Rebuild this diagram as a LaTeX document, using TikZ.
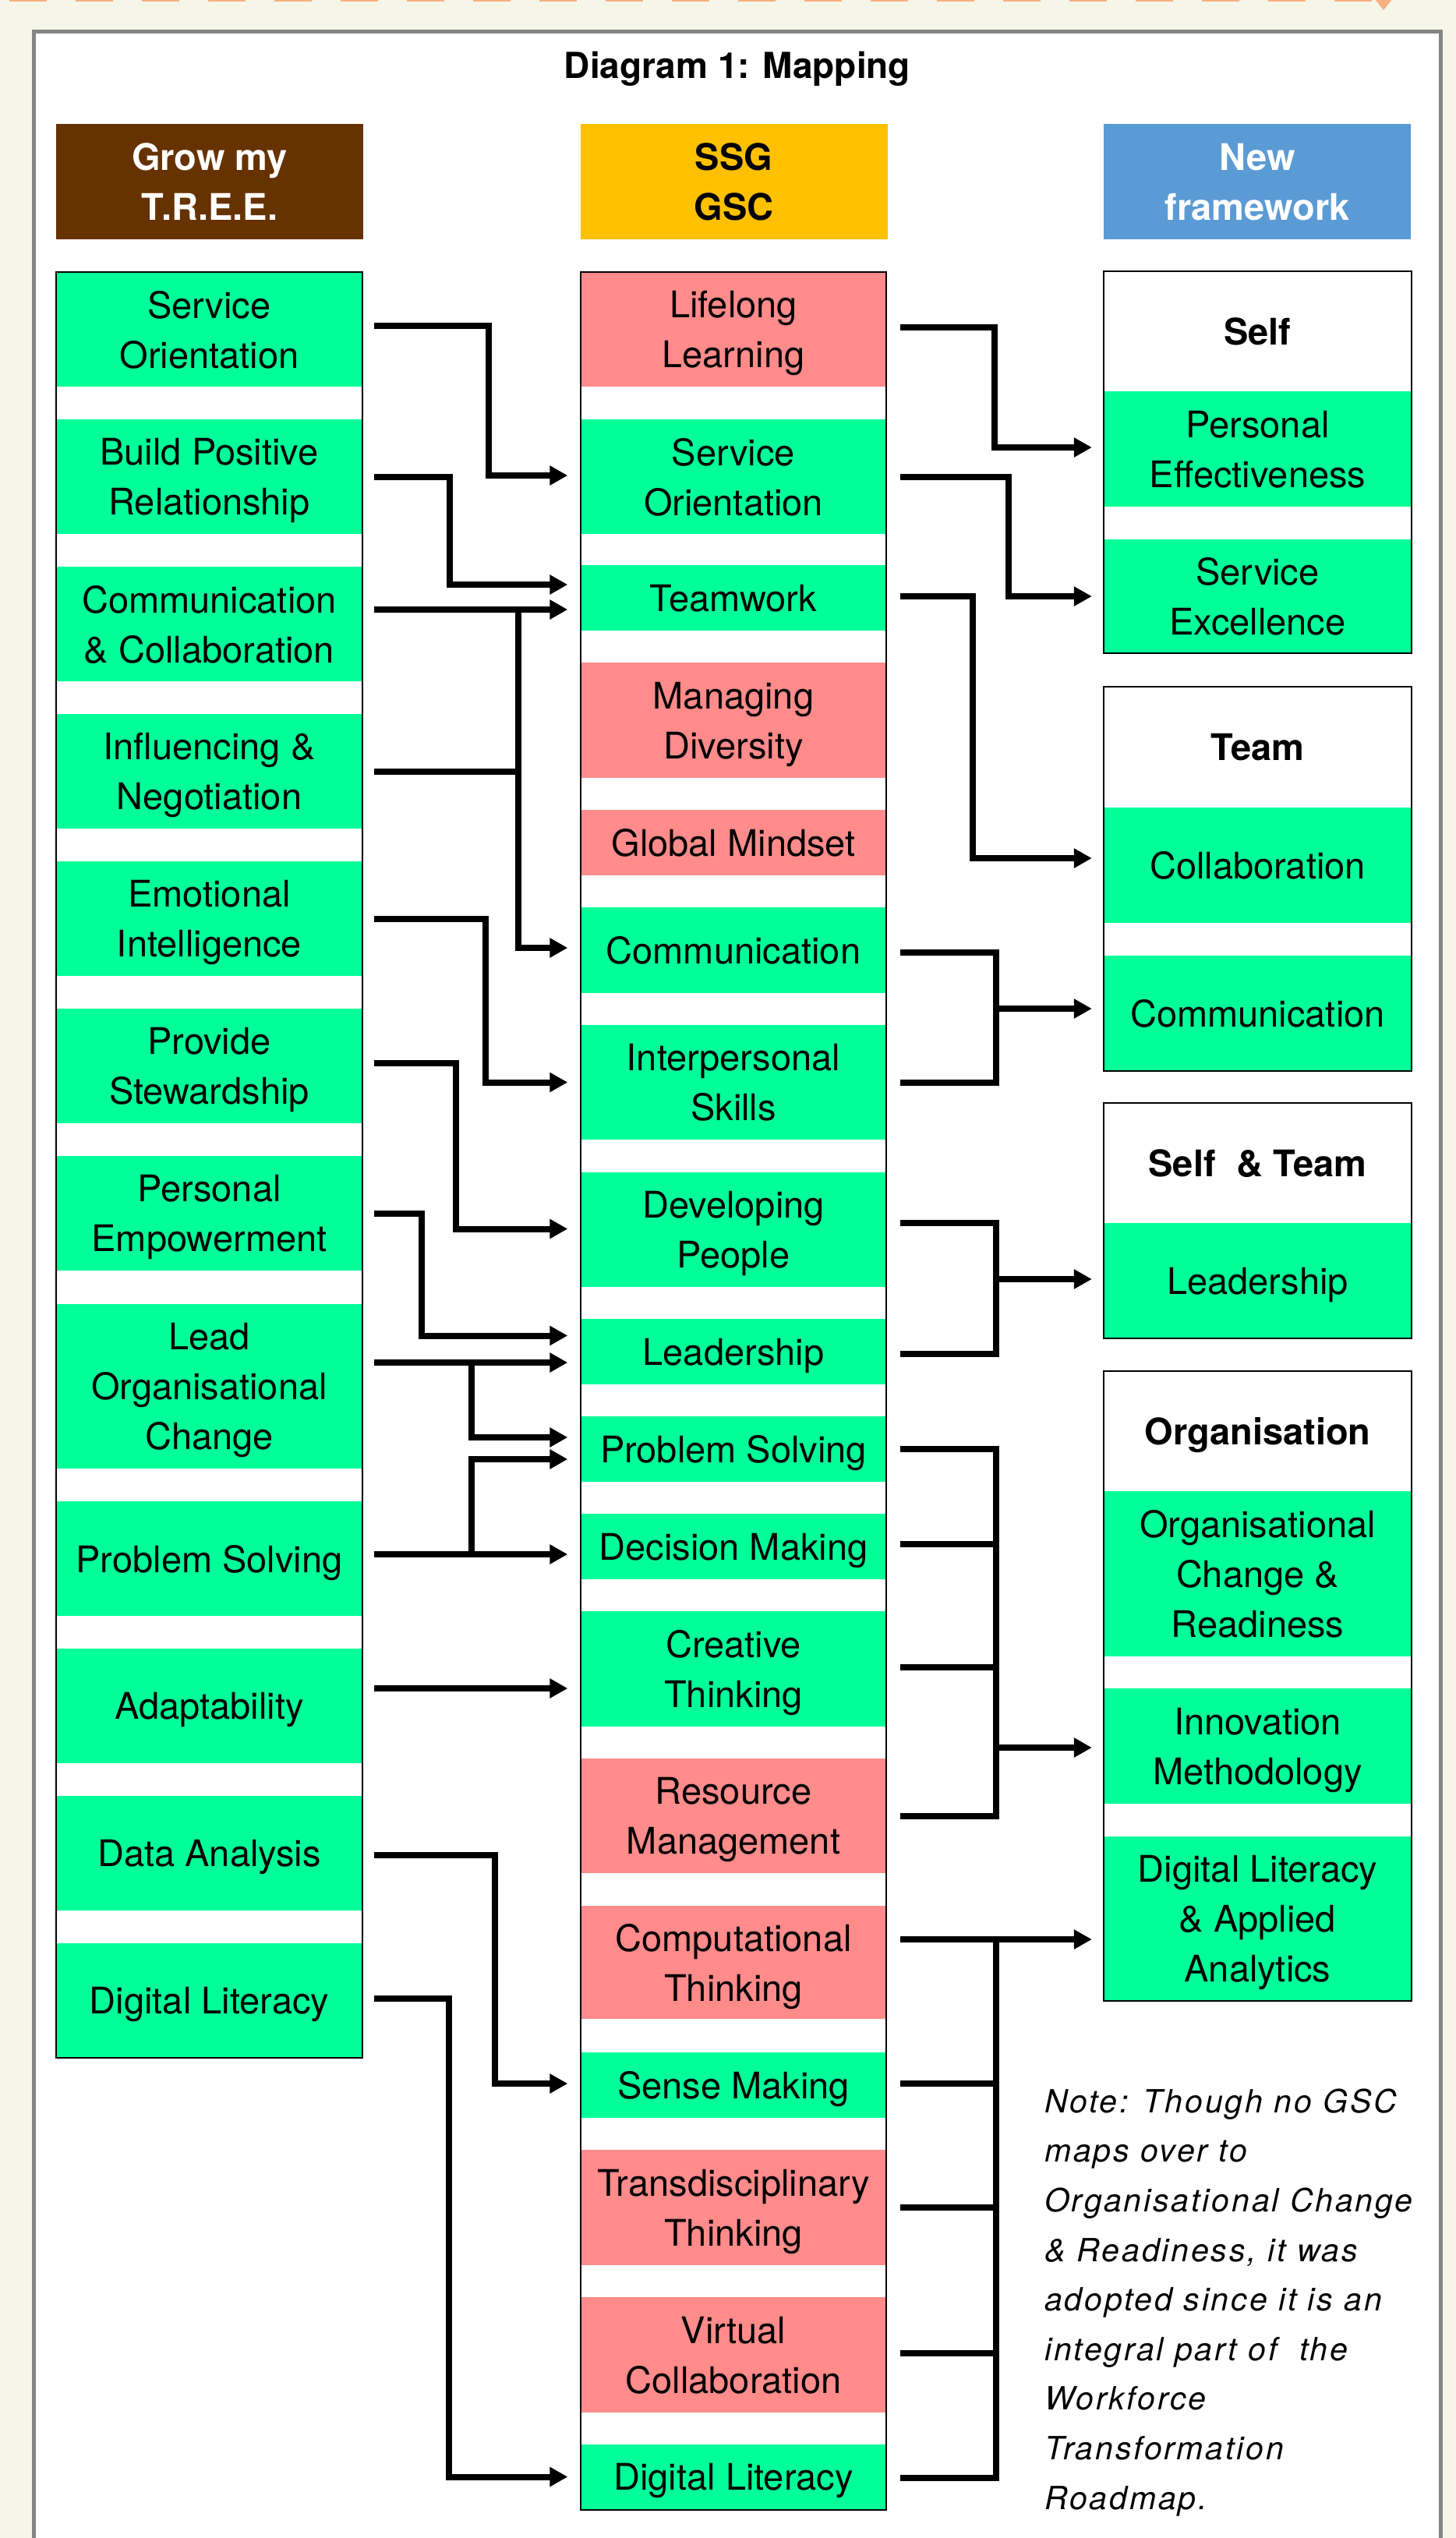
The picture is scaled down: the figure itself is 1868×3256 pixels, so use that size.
\documentclass[tikz,border=0pt]{standalone}
\usepackage{fontspec}
\setmainfont{TeX Gyre Heros}
\usetikzlibrary{arrows.meta}
\definecolor{mgreen}{HTML}{00FF99}
\definecolor{mpink}{HTML}{FF8B8B}
\definecolor{mbrown}{HTML}{663300}
\definecolor{myellow}{HTML}{FFC000}
\definecolor{mblue}{HTML}{5B9BD5}
\definecolor{cream}{HTML}{F5F5E8}
\definecolor{orng}{HTML}{F7B07F}
\definecolor{fgray}{HTML}{858585}
\newcommand\boxfont{\fontsize{47pt}{64pt}\selectfont}
\newcommand\hdrfont{\fontsize{47pt}{64pt}\selectfont\bfseries}
\newcommand\notefont{\fontsize{41pt}{63.6pt}\selectfont\itshape\addfontfeatures{LetterSpace=7}}
\begin{document}
\begin{tikzpicture}[x=1pt,y=-1pt,
  cell/.style={inner sep=0pt, minimum width=393pt, align=center, font=\boxfont, text depth=0pt},
  gcell/.style={cell, fill=mgreen},
  pcell/.style={cell, fill=mpink},
  rcell/.style={inner sep=0pt, minimum width=395pt, align=center, font=\boxfont, fill=mgreen, text depth=0pt},
  hdr/.style={inner sep=0pt, minimum width=394pt, minimum height=148pt, align=center, font=\hdrfont, text depth=0pt},
  colframe/.style={draw=black, line width=2.5pt, inner sep=0pt},
  grptitle/.style={inner sep=0pt, align=center, font=\hdrfont, text depth=0pt},
  conn/.style={line width=8pt, -{Triangle[length=23pt,width=24pt]}},
  bus/.style={line width=8pt}]
\useasboundingbox (0,0) rectangle (1868,3256);
\fill[cream] (0,0) rectangle (1868,3256);
% top dashed decoration
\draw[orng, line width=12pt, dash pattern=on 48pt off 37pt] (12,-4) -- (1760,-4);
\fill[orng] (1760,-6) -- (1790,-6) -- (1775,13) -- cycle;
% frame
\draw[fgray, line width=5pt, fill=white] (43.5,40.5) rectangle (1848.5,3320);
% title
\node[font=\fontsize{46pt}{52pt}\selectfont\bfseries, anchor=base, inner sep=0pt] (title) at (946,100) {Diagram 1: Mapping};
% headers
\node[hdr, fill=mbrown, text=white] (h1) at (269,233) {Grow my\\T.R.E.E.};
\node[hdr, fill=myellow, text=black] (h2) at (941.5,233) {SSG\\GSC};
\node[hdr, fill=mblue, text=white] (h3) at (1613,233) {New\\framework};
% left column
\node[gcell, minimum height=147pt] (l1) at (268.5,422.5) {Service\\Orientation};
\node[gcell, minimum height=147pt] (l2) at (268.5,611.5) {Build Positive\\Relationship};
\node[gcell, minimum height=147pt] (l3) at (268.5,800.5) {Communication\\\& Collaboration};
\node[gcell, minimum height=147pt] (l4) at (268.5,989.5) {Influencing \&\\Negotiation};
\node[gcell, minimum height=147pt] (l5) at (268.5,1178.5) {Emotional\\Intelligence};
\node[gcell, minimum height=147pt] (l6) at (268.5,1367.5) {Provide\\Stewardship};
\node[gcell, minimum height=147pt] (l7) at (268.5,1556.5) {Personal\\Empowerment};
\node[gcell, minimum height=211pt] (l8) at (268.5,1778.5) {Lead\\Organisational\\Change};
\node[gcell, minimum height=147pt] (l9) at (268.5,1999.5) {Problem Solving};
\node[gcell, minimum height=147pt] (l10) at (268.5,2188.5) {Adaptability};
\node[gcell, minimum height=147pt] (l11) at (268.5,2377.5) {Data Analysis};
\node[gcell, minimum height=147pt] (l12) at (268.5,2566.5) {Digital Literacy};
\node[colframe, minimum width=393pt, minimum height=2291pt] (lcol) at (268.5,1494.5) {};
% middle column
\node[pcell, minimum height=147pt] (m1) at (941,422.5) {Lifelong\\Learning};
\node[gcell, minimum height=147pt] (m2) at (941,611.5) {Service\\Orientation};
\node[gcell, minimum height=84pt] (m3) at (941,767) {Teamwork};
\node[pcell, minimum height=148pt] (m4) at (941,924) {Managing\\Diversity};
\node[pcell, minimum height=84pt] (m5) at (941,1081) {Global Mindset};
\node[gcell, minimum height=110pt] (m6) at (941,1219) {Communication};
\node[gcell, minimum height=147pt] (m7) at (941,1388.5) {Interpersonal\\Skills};
\node[gcell, minimum height=147pt] (m8) at (941,1577.5) {Developing\\People};
\node[gcell, minimum height=84pt] (m9) at (941,1734) {Leadership};
\node[gcell, minimum height=84pt] (m10) at (941,1859) {Problem Solving};
\node[gcell, minimum height=84pt] (m11) at (941,1984) {Decision Making};
\node[gcell, minimum height=148pt] (m12) at (941,2141) {Creative\\Thinking};
\node[pcell, minimum height=147pt] (m13) at (941,2329.5) {Resource\\Management};
\node[pcell, minimum height=145pt] (m14) at (941,2517.5) {Computational\\Thinking};
\node[gcell, minimum height=84pt] (m15) at (941,2675) {Sense Making};
\node[pcell, minimum height=148pt] (m16) at (941,2832) {Transdisciplinary\\Thinking};
\node[pcell, minimum height=148pt] (m17) at (941,3021) {Virtual\\Collaboration};
\node[gcell, minimum height=83pt] (m18) at (941,3177.5) {Digital Literacy};
\node[colframe, minimum width=392pt, minimum height=2871pt] (mcol) at (941,1784.5) {};
% right column
\node[grptitle] (g1t) at (1613.5,425) {Self};
\node[rcell, minimum height=148pt] (rpe) at (1613.5,576) {Personal\\Effectiveness};
\node[rcell, minimum height=146pt] (rse) at (1613.5,765) {Service\\Excellence};
\node[colframe, minimum width=395pt, minimum height=490pt] (g1) at (1613.5,593) {};
\node[grptitle] (g2t) at (1613.5,958.5) {Team};
\node[rcell, minimum height=148pt] (rcol) at (1613.5,1110) {Collaboration};
\node[rcell, minimum height=148pt] (rcom) at (1613.5,1300) {Communication};
\node[colframe, minimum width=395pt, minimum height=493pt] (g2) at (1613.5,1127.5) {};
\node[grptitle] (g3t) at (1613.5,1492) {Self\hspace{0.3em} \& Team};
\node[rcell, minimum height=148pt] (rlead) at (1613.5,1643) {Leadership};
\node[colframe, minimum width=395pt, minimum height=302pt] (g3) at (1613.5,1566) {};
\node[grptitle] (g4t) at (1613.5,1836) {Organisation};
\node[rcell, minimum height=212pt] (rocr) at (1613.5,2019) {Organisational\\Change \&\\Readiness};
\node[rcell, minimum height=148pt] (rim) at (1613.5,2240) {Innovation\\Methodology};
\node[rcell, minimum height=211pt] (rdl) at (1613.5,2461.5) {Digital Literacy\\\& Applied\\Analytics};
\node[colframe, minimum width=395pt, minimum height=808pt] (g4) at (1613.5,2163) {};
% note (base anchor = baseline of its last line)
\node[anchor=base west, align=left, font=\notefont, inner sep=0pt] (note) at (1340,3219)
 {Note: Though no GSC\\maps over to\\Organisational Change\\\& Readiness, it was\\adopted since it is an\\integral part of\ \ the\\Workforce\\Transformation\\Roadmap.};
% connector end points (left -> middle)
\coordinate (s1) at ([xshift=15pt,yshift=4.5pt]l1.east);
\coordinate (s2) at ([xshift=15pt]l2.east);
\coordinate (s3) at ([xshift=15pt,yshift=18.5pt]l3.east);
\coordinate (s4) at ([xshift=15pt]l4.east);
\coordinate (s5) at ([xshift=15pt]l5.east);
\coordinate (s6) at ([xshift=15pt,yshift=3.5pt]l6.east);
\coordinate (s7) at ([xshift=15pt]l7.east);
\coordinate (s8) at ([xshift=15pt,yshift=30.5pt]l8.east);
\coordinate (s9) at ([xshift=15pt,yshift=5.5pt]l9.east);
\coordinate (s10) at ([xshift=15pt,yshift=22.5pt]l10.east);
\coordinate (s11) at ([xshift=15pt,yshift=-2.5pt]l11.east);
\coordinate (s12) at ([xshift=15pt,yshift=2.5pt]l12.east);
\coordinate (t2) at ([xshift=-16pt,yshift=1.5pt]m2.west);
\coordinate (t3a) at ([xshift=-16pt,yshift=17pt]m3.west);
\coordinate (t3b) at ([xshift=-16pt,yshift=-15pt]m3.west);
\coordinate (t6) at ([xshift=-16pt,yshift=3pt]m6.west);
\coordinate (t7) at ([xshift=-16pt]m7.west);
\coordinate (t8) at ([xshift=-16pt,yshift=1pt]m8.west);
\coordinate (t9a) at ([xshift=-16pt,yshift=20.5pt]m9.west);
\coordinate (t9b) at ([xshift=-16pt,yshift=-14pt]m9.west);
\coordinate (t10a) at ([xshift=-16pt,yshift=15pt]m10.west);
\coordinate (t10b) at ([xshift=-16pt,yshift=-13pt]m10.west);
\coordinate (t11) at ([xshift=-16pt,yshift=-10pt]m11.west);
\coordinate (t12) at ([xshift=-16pt,yshift=-25pt]m12.west);
\coordinate (t15) at ([xshift=-16pt,yshift=2pt]m15.west);
\coordinate (t18) at ([xshift=-16pt]m18.west);
\coordinate (bA) at (627,0);
\coordinate (bB) at (577,0);
\coordinate (bC) at (665,0);
\coordinate (bD) at (623,0);
\coordinate (bE) at (585,0);
\coordinate (bF) at (541,0);
\coordinate (bG) at (605,0);
\coordinate (bH) at (635,0);
\coordinate (bI) at (576,0);
% connector end points (middle -> right)
\coordinate (u1) at ([xshift=17pt,yshift=2.5pt]m1.east);
\coordinate (u2) at ([xshift=17pt]m2.east);
\coordinate (u3) at ([xshift=17pt,yshift=2pt]m3.east);
\coordinate (u6) at ([xshift=17pt,yshift=-3pt]m6.east);
\coordinate (u7) at ([xshift=17pt]m7.east);
\coordinate (u8) at ([xshift=17pt,yshift=8.5pt]m8.east);
\coordinate (u9) at ([xshift=17pt,yshift=-3pt]m9.east);
\coordinate (u10) at ([xshift=17pt]m10.east);
\coordinate (u11) at ([xshift=17pt,yshift=3pt]m11.east);
\coordinate (u12) at ([xshift=17pt,yshift=2pt]m12.east);
\coordinate (u13) at ([xshift=17pt]m13.east);
\coordinate (u14) at ([xshift=17pt,yshift=29.5pt]m14.east);
\coordinate (u15) at ([xshift=17pt,yshift=2pt]m15.east);
\coordinate (u16) at ([xshift=17pt]m16.east);
\coordinate (u17) at ([xshift=17pt,yshift=2pt]m17.east);
\coordinate (u18) at ([xshift=17pt,yshift=-1.5pt]m18.east);
\coordinate (v1) at ([xshift=-15pt,yshift=2pt]rpe.west);
\coordinate (v2) at ([xshift=-15pt]rse.west);
\coordinate (v3) at ([xshift=-15pt,yshift=9pt]rcol.west);
\coordinate (v4) at ([xshift=-15pt,yshift=6pt]rcom.west);
\coordinate (v5) at ([xshift=-15pt,yshift=2pt]rlead.west);
\coordinate (v6) at ([xshift=-15pt,yshift=-2pt]rim.west);
\coordinate (v7) at ([xshift=-15pt,yshift=-26.5pt]rdl.west);
\coordinate (rA) at (1276,0);
\coordinate (rB) at (1294,0);
\coordinate (rC) at (1248,0);
\coordinate (rD) at (1278,0);
% left -> middle connectors
\draw[conn] (s1) -| (bA |- t2) -- (t2);
\draw[conn] (s2) -| (bB |- t3a) -- (t3a);
\draw[conn] (s3) -- (t3b);
\draw[conn] (bC |- t3b) |- (t6);
\draw[bus] (s4) -- (bC |- s4);
\draw[conn] (s5) -| (bD |- t7) -- (t7);
\draw[conn] (s6) -| (bE |- t8) -- (t8);
\draw[conn] (s7) -| (bF |- t9a) -- (t9a);
\draw[conn] (s8) -- (t9b);
\draw[conn] (bG |- t9b) |- (t10a);
\draw[conn] (s9) -- (t11);
\draw[conn] (bG |- t11) |- (t10b);
\draw[conn] (s10) -- (t12);
\draw[conn] (s11) -| (bH |- t15) -- (t15);
\draw[conn] (s12) -| (bI |- t18) -- (t18);
% middle -> right connectors
\draw[conn] (u1) -| (rA |- v1) -- (v1);
\draw[conn] (u2) -| (rB |- v2) -- (v2);
\draw[conn] (u3) -| (rC |- v3) -- (v3);
\draw[bus] (u6) -| (rD |- u7) -- (u7);
\draw[conn] (rD |- v4) -- (v4);
\draw[bus] (u8) -| (rD |- u9) -- (u9);
\draw[conn] (rD |- v5) -- (v5);
\draw[bus] (u10) -| (rD |- u13) -- (u13);
\draw[bus] (u11) -- (rD |- u11);
\draw[bus] (u12) -- (rD |- u12);
\draw[conn] (rD |- v6) -- (v6);
\draw[conn] (u14) -- (v7);
\draw[bus] (rD |- u14) -- (rD |- u18) -- (u18);
\draw[bus] (u15) -- (rD |- u15);
\draw[bus] (u16) -- (rD |- u16);
\draw[bus] (u17) -- (rD |- u17);
\end{tikzpicture}
\end{document}
